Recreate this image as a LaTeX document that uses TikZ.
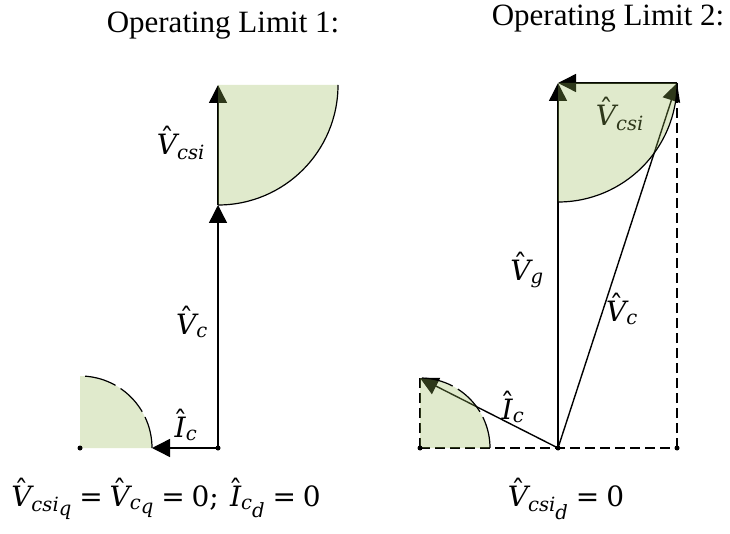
\documentclass[tikz,border=0pt]{standalone}
\usepackage[no-math]{fontspec}
\setmainfont{Liberation Serif}
\newfontfamily\dvserif{DejaVu Serif}[NFSSFamily=dvserif]
\DeclareSymbolFont{dvit}{TU}{dvserif}{m}{it}
\DeclareSymbolFont{dvup}{TU}{dvserif}{m}{n}
\DeclareMathSymbol{V}{\mathalpha}{dvit}{`V}
\DeclareMathSymbol{I}{\mathalpha}{dvit}{`I}
\DeclareMathSymbol{c}{\mathalpha}{dvit}{`c}
\DeclareMathSymbol{s}{\mathalpha}{dvit}{`s}
\DeclareMathSymbol{i}{\mathalpha}{dvit}{`i}
\DeclareMathSymbol{g}{\mathalpha}{dvit}{`g}
\DeclareMathSymbol{q}{\mathalpha}{dvit}{`q}
\DeclareMathSymbol{d}{\mathalpha}{dvit}{`d}
\DeclareMathSymbol{0}{\mathord}{dvup}{`0}
\DeclareMathSymbol{;}{\mathpunct}{dvup}{`;}
\DeclareMathSymbol{=}{\mathrel}{dvup}{`=}
\newcommand{\vhat}[1]{\Umathaccent 0 \symdvup "02C6 {#1}}
\newcommand{\ssub}[1]{{\scriptstyle #1}}
\usetikzlibrary{arrows.meta}
\definecolor{zonegreen}{HTML}{9BBB59}
\tikzset{
 vec/.style={line width=1.4pt, -{Triangle[length=18pt,width=18pt]}},
 zone/.style={fill=zonegreen, fill opacity=0.3},
 rim/.style={line width=1.2pt},
 rimdash/.style={line width=1.2pt, dash pattern=on 32pt off 6pt},
 guide/.style={line width=1.2pt, dash pattern=on 10pt off 5pt},
 lbl/.style={font=\fontsize{28}{32}\selectfont, inner sep=0pt},
 ttl/.style={font=\fontsize{31}{36}\selectfont, inner sep=0pt, anchor=base},
 eqn/.style={font=\fontsize{28}{32}\selectfont, inner sep=0pt, anchor=base}
}
\begin{document}
\begin{tikzpicture}[x=1pt,y=-1pt]
\useasboundingbox (0,0) rectangle (730,534);
\fill[white] (0,0) rectangle (730,534);
% ---------- points
\coordinate (L0) at (80,448);
\coordinate (O1) at (218,448);
\coordinate (Ic1) at (152,448);
\coordinate (Vc1) at (218,205);
\coordinate (Vs1) at (218,85);
\coordinate (R0) at (420,448);
\coordinate (O2) at (558,448);
\coordinate (Ic2) at (420,378);
\coordinate (Vg2) at (558,83);
\coordinate (Vc2) at (677,83);
\coordinate (D2) at (677,448);
% ---------- titles
\node[ttl] (T1) at (223,33) {Operating Limit 1:};
\node[ttl] (T2) at (608,26) {Operating Limit 2:};
% ---------- left diagram vectors
\draw[vec] (O1) -- (Ic1);
\draw[vec] (O1) -- (Vc1);
\draw[vec] (Vc1) -- (Vs1);
\node[lbl] (lVs1) at (181,143) {$\vhat{V}_{csi}$};
\node[lbl] (lVc1) at (192,322) {$\vhat{V}_{c}$};
\node[lbl] (lIc1) at (186,425) {$\vhat{I}_{c}$};
% ---------- right diagram guides and vectors
\draw[guide] (R0) -- (D2);
\draw[guide] (D2) -- (Vc2);
\draw[guide] (R0) -- (Ic2);
\draw[vec] (O2) -- (Vg2);
\draw[vec] (O2) -- (Vc2);
\draw[vec] (Vc2) -- (Vg2);
\draw[vec] (O2) -- (Ic2);
\node[lbl] (lVs2) at (620,114) {$\vhat{V}_{csi}$};
\node[lbl] (lVg2) at (527,270) {$\vhat{V}_{g}$};
\node[lbl] (lVc2) at (622,309) {$\vhat{V}_{c}$};
\node[lbl] (lIc2) at (513,407) {$\vhat{I}_{c}$};
% ---------- zones (drawn over the vectors, translucent)
\fill[zone] (L0) -- ++(72,0) arc[start angle=0,end angle=90,radius=72pt] -- cycle;
\fill[zone] (Vs1) -- ++(0,120) arc[start angle=-90,end angle=0,radius=120pt] -- cycle;
\fill[zone] (R0) -- ++(70,0) arc[start angle=0,end angle=90,radius=70pt] -- cycle;
\fill[zone] (Vg2) -- ++(0,119) arc[start angle=-90,end angle=0,radius=119pt] -- cycle;
\draw[rimdash] (L0) ++(72,0) arc[start angle=0,end angle=90,radius=72pt];
\draw[rim] (Vs1) ++(0,120) arc[start angle=-90,end angle=0,radius=120pt];
\draw[rimdash] (R0) ++(70,0) arc[start angle=0,end angle=90,radius=70pt];
\draw[rim] (Vg2) ++(0,119) arc[start angle=-90,end angle=0,radius=119pt];
% ---------- dots
\foreach \p in {L0,O1,R0,O2,D2} \fill (\p) circle[radius=2.5pt];
% ---------- equations
\node[eqn] (E1) at (166,506) {$\vhat{V}_{csi_{\ssub{q}}} = \vhat{V}_{c_{\ssub{q}}} = 0;\ \vhat{I}_{c_{\ssub{d}}} = 0$};
\node[eqn] (E2) at (566,506) {$\vhat{V}_{csi_{\ssub{d}}} = 0$};
\end{tikzpicture}
\end{document}
